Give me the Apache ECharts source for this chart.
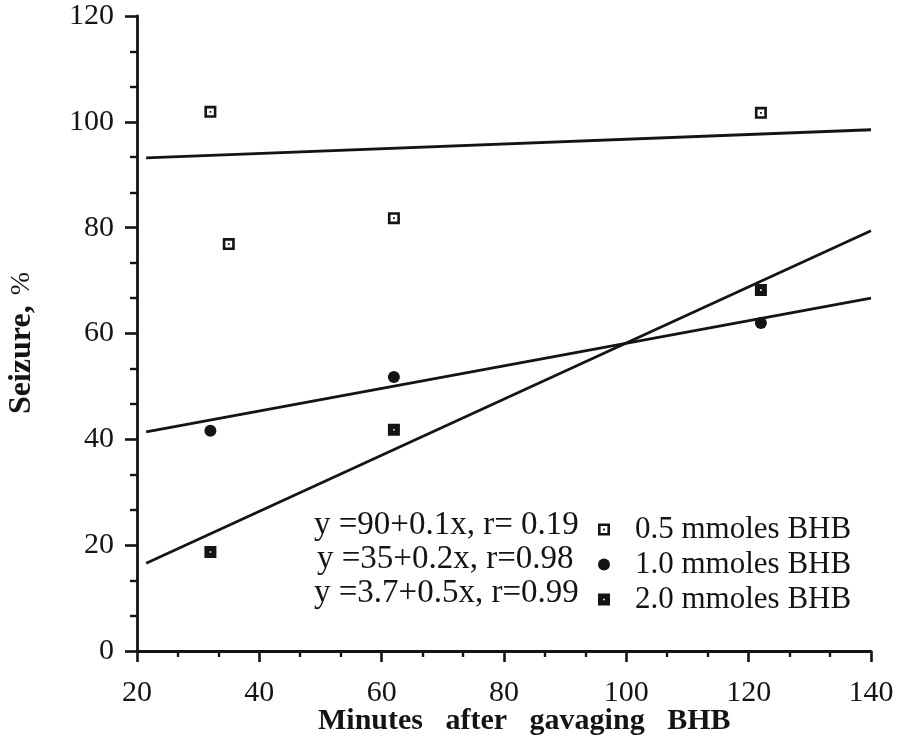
<!DOCTYPE html>
<html>
<head>
<meta charset="utf-8">
<script src="https://cdn.jsdelivr.net/npm/echarts@6/dist/echarts.min.js"></script>
<style>
html,body{margin:0;padding:0;background:#fff;}
#chart{width:897px;height:756px;}
</style>
</head>
<body>
<div id="chart"></div>
<script>
// ---- data ----
var seriesNames = ['0.5 mmoles BHB', '1.0 mmoles BHB', '2.0 mmoles BHB'];
var equations = ['y =90+0.1x, r= 0.19', 'y =35+0.2x, r=0.98', 'y =3.7+0.5x, r=0.99'];
var pts05 = [[32, 101.9], [35, 76.9], [62, 81.8], [122, 101.7]];
var pts10 = [[32, 41.6], [62, 51.8], [122, 62.0]];
var pts20 = [[32, 18.7], [62, 41.8], [122, 68.2]];
var fitX = [21.5, 140];
var fit05 = [93.2, 98.5];
var fit10 = [41.4, 66.7];
var fit20 = [16.6, 79.4];
var xTitle = 'Minutes   after   gavaging   BHB';
var yTitle = 'Seizure,';
var yUnit = '%';

function pairs(xs, ys) { return xs.map(function (x, i) { return [x, ys[i]]; }); }

var INK = '#141414';
var FONT = '"Liberation Serif", "Times New Roman", serif';
var sym05 = 'path://M0,0L12,0L12,12L0,12Z M2.6,2.6L2.6,9.4L9.4,9.4L9.4,2.6Z M5.1,5.1L6.9,5.1L6.9,6.9L5.1,6.9Z';
var sym20 = 'path://M0,0L12,0L12,12L0,12Z M5.2,5.2L5.2,6.8L6.8,6.8L6.8,5.2Z';

var chart = echarts.init(document.getElementById('chart'));
var lineStyle = { color: INK, width: 2.8 };
var option = {
  backgroundColor: '#fff',
  animation: false,
  grid: { left: 137, right: 26, top: 16, bottom: 105 },
  xAxis: {
    type: 'value', min: 20, max: 140, interval: 20,
    axisLine: { lineStyle: { color: INK, width: 2.8 } },
    axisTick: { show: true, inside: false, length: 11, lineStyle: { color: INK, width: 2.6 } },
    minorTick: { show: true, splitNumber: 3, length: 6, lineStyle: { color: INK, width: 2.4 } },
    splitLine: { show: false },
    axisLabel: { margin: 27, color: INK, fontFamily: FONT, fontSize: 30 }
  },
  yAxis: {
    type: 'value', min: 0, max: 120, interval: 20,
    axisLine: { show: true, lineStyle: { color: INK, width: 2.8 } },
    axisTick: { show: true, inside: false, length: 12, lineStyle: { color: INK, width: 2.6 } },
    minorTick: { show: true, splitNumber: 3, length: 7, lineStyle: { color: INK, width: 2.4 } },
    splitLine: { show: false },
    axisLabel: { margin: 23, color: INK, fontFamily: FONT, fontSize: 30 }
  },
  legend: {
    data: seriesNames,
    orient: 'vertical',
    left: 598, top: 514, padding: 0,
    itemWidth: 12, itemHeight: 12, itemGap: 4,
    textStyle: { color: INK, fontFamily: FONT, fontSize: 31, lineHeight: 30, padding: [0, 0, 0, 20] }
  },
  series: [
    { type: 'line', data: pairs(fitX, fit05), symbol: 'none', lineStyle: lineStyle, silent: true },
    { type: 'line', data: pairs(fitX, fit10), symbol: 'none', lineStyle: lineStyle, silent: true },
    { type: 'line', data: pairs(fitX, fit20), symbol: 'none', lineStyle: lineStyle, silent: true },
    { type: 'scatter', name: seriesNames[0], data: pts05, symbol: sym05, symbolSize: 12, itemStyle: { color: INK, opacity: 1 } },
    { type: 'scatter', name: seriesNames[1], data: pts10, symbol: 'circle', symbolSize: 12, itemStyle: { color: INK, opacity: 1 } },
    { type: 'scatter', name: seriesNames[2], data: pts20, symbol: sym20, symbolSize: 12, itemStyle: { color: INK, opacity: 1 } }
  ],
  graphic: [
    { type: 'text', left: 314, top: 509, style: { text: equations[0], fill: INK, font: '33px ' + FONT } },
    { type: 'text', left: 317, top: 543, style: { text: equations[1], fill: INK, font: '33px ' + FONT } },
    { type: 'text', left: 314, top: 577, style: { text: equations[2], fill: INK, font: '33px ' + FONT } },
    { type: 'text', left: 318, top: 706, style: { text: xTitle, fill: INK, font: 'bold 30px ' + FONT } },
    {
      type: 'text', x: 22, y: 343, rotation: Math.PI / 2,
      style: {
        text: '{b|' + yTitle + '}   {n|' + yUnit + '}',
        align: 'center', verticalAlign: 'middle',
        rich: {
          b: { fontFamily: FONT, fontSize: 32, fontWeight: 'bold', fill: INK },
          n: { fontFamily: FONT, fontSize: 28, fill: INK }
        }
      }
    }
  ]
};
chart.setOption(option);
</script>
</body>
</html>
